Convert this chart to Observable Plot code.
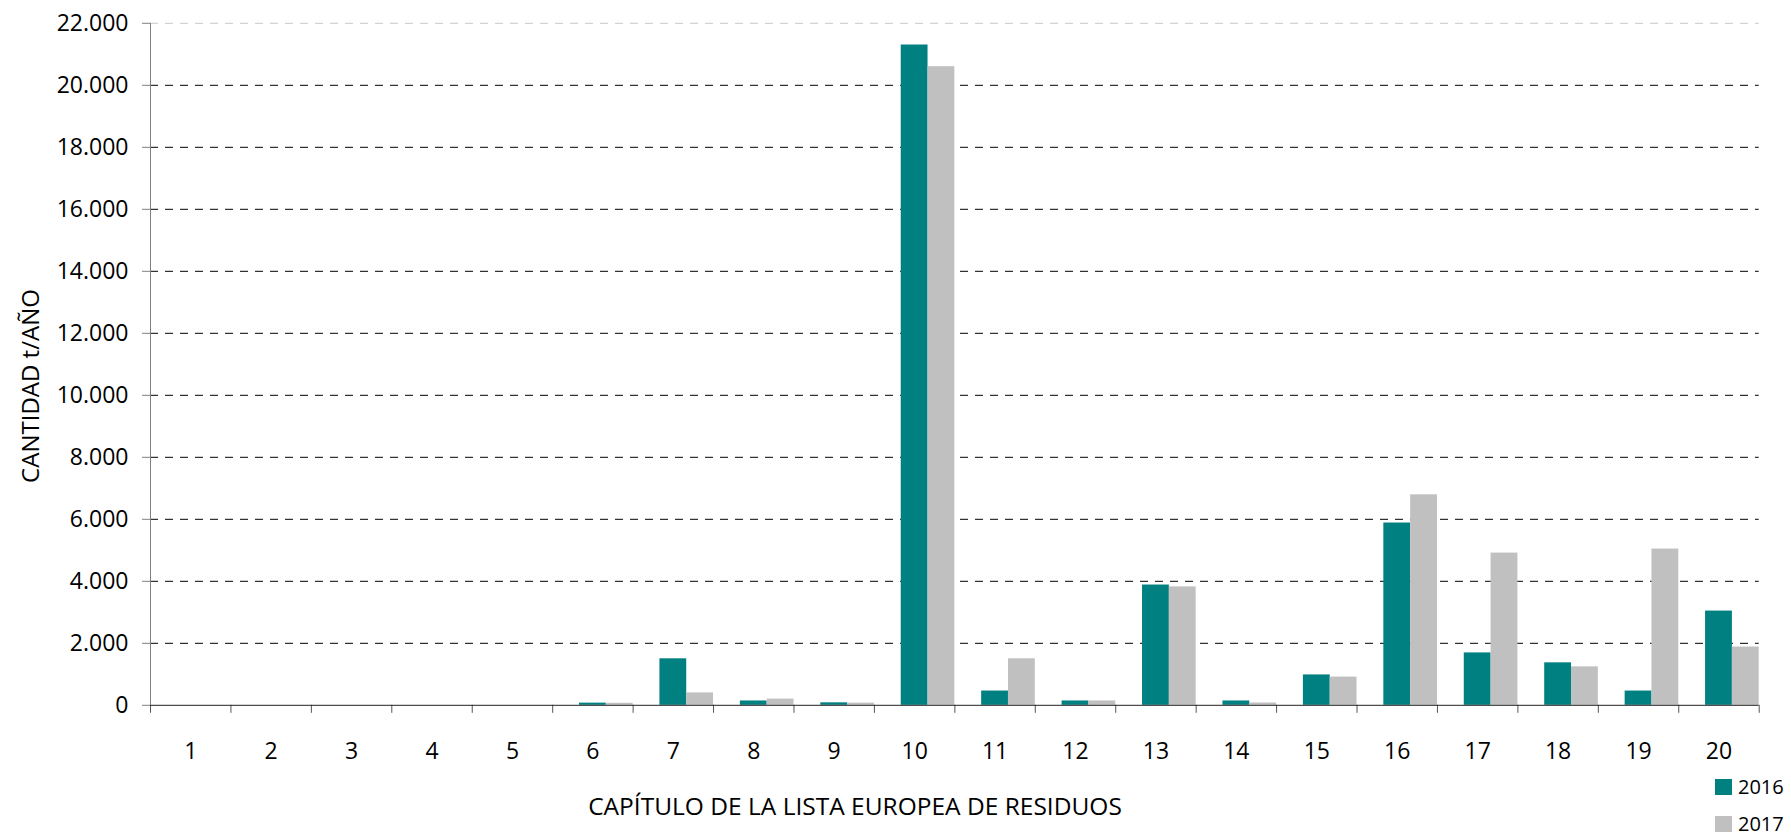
<!DOCTYPE html>
<html><head><meta charset="utf-8">
<script src="https://cdn.jsdelivr.net/npm/d3@7"></script>
<script src="https://cdn.jsdelivr.net/npm/@observablehq/plot@0.6"></script>
<style>
html,body{margin:0;padding:0;background:#fff;overflow:hidden}
#wrap{position:relative;width:1791px;height:834px;font-family:"Open Sans",sans-serif;color:#000}
.ytitle{position:absolute;left:29px;top:386px;transform:translate(-50%,-50%) rotate(-90deg);font-size:24px;white-space:nowrap}
.xtitle{position:absolute;left:855px;top:805px;transform:translate(-50%,-50%);font-size:24.5px;white-space:nowrap}
.legend{position:absolute;left:1715px;top:768px;font-size:20px}
.legend .row{display:flex;align-items:center;height:37px}
.legend .sw{width:17px;height:16px;margin-right:6px}
</style></head><body><div id="wrap"></div>
<script>
const categories = [1,2,3,4,5,6,7,8,9,10,11,12,13,14,15,16,17,18,19,20];
const values2016 = [0,0,0,0,0,70,1500,140,80,21300,460,140,3880,140,980,5880,1690,1370,460,3040];
const values2017 = [0,0,0,0,0,65,400,200,70,20600,1500,140,3820,75,910,6790,4910,1240,5040,1880];
const years = ["2016","2017"];
const colors = ["#008080","#C0C0C0"];
const yTicks = [0,2000,4000,6000,8000,10000,12000,14000,16000,18000,20000,22000];
const yTitle = "CANTIDAD t/AÑO";
const xTitle = "CAPÍTULO DE LA LISTA EUROPEA DE RESIDUOS";

const series = [values2016, values2017];
const data = [];
categories.forEach((c, i) => {
  years.forEach((y, j) => data.push({cap: c, year: y, slot: j, value: series[j][i]}));
});
const boundaries = [0.5, ...categories.map(c => c + 0.5)];
const fmt = d3.formatLocale({decimal: ",", thousands: ".", grouping: [3], currency: ["", "€"]}).format(",");

const chart = Plot.plot({
  width: 1791, height: 834,
  marginLeft: 150, marginRight: 32.3, marginTop: 22.8, marginBottom: 129.2,
  x: {domain: [0.5, 20.5], axis: null},
  y: {domain: [0, 22000], axis: null},
  color: {domain: years, range: colors},
  style: {fontFamily: "'Open Sans', sans-serif", fontSize: "23px", color: "#000", background: "#fff"},
  marks: [
    Plot.ruleY(yTicks.filter(v => v > 0 && v < 22000), {stroke: "#000", strokeDasharray: "8,7", strokeWidth: 1}),
    Plot.ruleY([22000], {stroke: "#c8c8c8", strokeDasharray: "8,7", strokeWidth: 1}),
    Plot.rectY(data, {
      x1: d => d.cap - 0.5 + (d.slot + 1) / 3,
      x2: d => d.cap - 0.5 + (d.slot + 2) / 3,
      y: "value", fill: "year"
    }),
    Plot.axisY({ticks: yTicks, tickFormat: fmt, tickSize: 8, tickPadding: 14, stroke: "#808080", label: null, fontSize: 23}),
    Plot.ruleX([0.5], {stroke: "#808080"}),
    Plot.axisX({ticks: boundaries, tickFormat: () => "", tickSize: 8, stroke: "#555", label: null}),
    Plot.axisX({ticks: categories, tickSize: 0, tickPadding: 37, label: null, fontSize: 23}),
    Plot.ruleY([0], {stroke: "#222"})
  ]
});

const wrap = document.getElementById("wrap");
wrap.appendChild(chart);
const yt = document.createElement("div"); yt.className = "ytitle"; yt.textContent = yTitle; wrap.appendChild(yt);
const xt = document.createElement("div"); xt.className = "xtitle"; xt.textContent = xTitle; wrap.appendChild(xt);
const lg = document.createElement("div"); lg.className = "legend";
years.forEach((y, i) => {
  const r = document.createElement("div"); r.className = "row";
  const s = document.createElement("div"); s.className = "sw"; s.style.background = colors[i];
  const t = document.createElement("span"); t.textContent = y;
  r.appendChild(s); r.appendChild(t); lg.appendChild(r);
});
wrap.appendChild(lg);
</script></body></html>
